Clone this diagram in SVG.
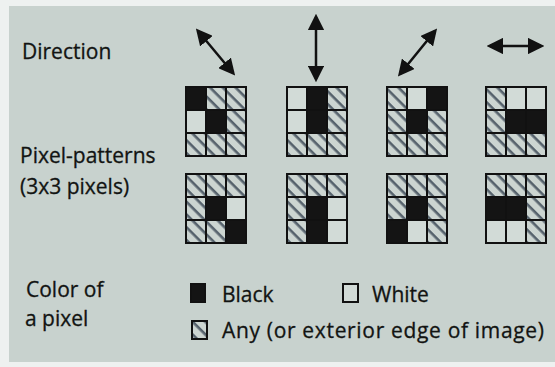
<svg xmlns="http://www.w3.org/2000/svg" width="555" height="367" viewBox="0 0 555 367">
<style>
  text { font-family: "Open Sans", "DejaVu Sans", sans-serif; font-size: 21px; fill: #121412; stroke: #121412; stroke-width: 0.3; }
  .b { fill: #141414; stroke: #111; stroke-width: 2; }
  .w { fill: #d2dbd7; stroke: #111; stroke-width: 2; }
  .a { fill: url(#hatch); stroke: #111; stroke-width: 2; }
  .arr { stroke: #111; stroke-width: 2.5; fill: none; marker-start: url(#ah); marker-end: url(#ah); }
</style>
<defs>
  <pattern id="hatch" patternUnits="userSpaceOnUse" width="9" height="9" patternTransform="rotate(45)">
    <rect width="9" height="9" fill="#ccd5d1"/>
    <rect x="0" y="0" width="9" height="2.6" fill="#56626c"/>
  </pattern>
  <marker id="ah" viewBox="0 0 10 10" refX="8" refY="5" markerWidth="6.6" markerHeight="6.6" orient="auto-start-reverse" markerUnits="strokeWidth">
    <path d="M0,0 L10,5 L0,10 Z" fill="#111"/>
  </marker>
</defs>
<rect width="555" height="367" fill="#eef1f0"/>
<rect x="9" y="6" width="546" height="356" fill="#c8d2ce"/>

<g id="labels">
  <text x="22" y="59">Direction</text>
  <text x="20" y="163">Pixel-patterns</text>
  <text x="20" y="194">(3x3 pixels)</text>
  <text x="26" y="297">Color of</text>
  <text x="25" y="326">a pixel</text>
</g>

<g id="connectors">
  <line class="arr" x1="198" y1="31" x2="233" y2="73"/>
  <line class="arr" x1="316" y1="17" x2="316" y2="79"/>
  <line class="arr" x1="435" y1="31" x2="400" y2="74"/>
  <line class="arr" x1="490" y1="46" x2="541" y2="46"/>
</g>

<g id="p1" transform="translate(186,87)">
  <rect class="b" x="0" y="0" width="20" height="23"/><rect class="a" x="20" y="0" width="20" height="23"/><rect class="a" x="40" y="0" width="20" height="23"/>
  <rect class="w" x="0" y="23" width="20" height="23"/><rect class="b" x="20" y="23" width="20" height="23"/><rect class="a" x="40" y="23" width="20" height="23"/>
  <rect class="a" x="0" y="46" width="20" height="23"/><rect class="a" x="20" y="46" width="20" height="23"/><rect class="a" x="40" y="46" width="20" height="23"/>
</g>
<g id="p2" transform="translate(287,87)">
  <rect class="w" x="0" y="0" width="20" height="23"/><rect class="b" x="20" y="0" width="20" height="23"/><rect class="a" x="40" y="0" width="20" height="23"/>
  <rect class="w" x="0" y="23" width="20" height="23"/><rect class="b" x="20" y="23" width="20" height="23"/><rect class="a" x="40" y="23" width="20" height="23"/>
  <rect class="a" x="0" y="46" width="20" height="23"/><rect class="a" x="20" y="46" width="20" height="23"/><rect class="a" x="40" y="46" width="20" height="23"/>
</g>
<g id="p3" transform="translate(387,87)">
  <rect class="a" x="0" y="0" width="20" height="23"/><rect class="w" x="20" y="0" width="20" height="23"/><rect class="b" x="40" y="0" width="20" height="23"/>
  <rect class="a" x="0" y="23" width="20" height="23"/><rect class="b" x="20" y="23" width="20" height="23"/><rect class="a" x="40" y="23" width="20" height="23"/>
  <rect class="a" x="0" y="46" width="20" height="23"/><rect class="a" x="20" y="46" width="20" height="23"/><rect class="a" x="40" y="46" width="20" height="23"/>
</g>
<g id="p4" transform="translate(486,87)">
  <rect class="a" x="0" y="0" width="20" height="23"/><rect class="w" x="20" y="0" width="20" height="23"/><rect class="w" x="40" y="0" width="20" height="23"/>
  <rect class="a" x="0" y="23" width="20" height="23"/><rect class="b" x="20" y="23" width="20" height="23"/><rect class="b" x="40" y="23" width="20" height="23"/>
  <rect class="a" x="0" y="46" width="20" height="23"/><rect class="a" x="20" y="46" width="20" height="23"/><rect class="a" x="40" y="46" width="20" height="23"/>
</g>

<g id="p5" transform="translate(186,174)">
  <rect class="a" x="0" y="0" width="20" height="23"/><rect class="a" x="20" y="0" width="20" height="23"/><rect class="a" x="40" y="0" width="20" height="23"/>
  <rect class="a" x="0" y="23" width="20" height="23"/><rect class="b" x="20" y="23" width="20" height="23"/><rect class="w" x="40" y="23" width="20" height="23"/>
  <rect class="a" x="0" y="46" width="20" height="23"/><rect class="a" x="20" y="46" width="20" height="23"/><rect class="b" x="40" y="46" width="20" height="23"/>
</g>
<g id="p6" transform="translate(287,174)">
  <rect class="a" x="0" y="0" width="20" height="23"/><rect class="a" x="20" y="0" width="20" height="23"/><rect class="a" x="40" y="0" width="20" height="23"/>
  <rect class="a" x="0" y="23" width="20" height="23"/><rect class="b" x="20" y="23" width="20" height="23"/><rect class="w" x="40" y="23" width="20" height="23"/>
  <rect class="a" x="0" y="46" width="20" height="23"/><rect class="b" x="20" y="46" width="20" height="23"/><rect class="w" x="40" y="46" width="20" height="23"/>
</g>
<g id="p7" transform="translate(387,174)">
  <rect class="a" x="0" y="0" width="20" height="23"/><rect class="a" x="20" y="0" width="20" height="23"/><rect class="a" x="40" y="0" width="20" height="23"/>
  <rect class="a" x="0" y="23" width="20" height="23"/><rect class="b" x="20" y="23" width="20" height="23"/><rect class="a" x="40" y="23" width="20" height="23"/>
  <rect class="b" x="0" y="46" width="20" height="23"/><rect class="w" x="20" y="46" width="20" height="23"/><rect class="a" x="40" y="46" width="20" height="23"/>
</g>
<g id="p8" transform="translate(486,174)">
  <rect class="a" x="0" y="0" width="20" height="23"/><rect class="a" x="20" y="0" width="20" height="23"/><rect class="a" x="40" y="0" width="20" height="23"/>
  <rect class="b" x="0" y="23" width="20" height="23"/><rect class="b" x="20" y="23" width="20" height="23"/><rect class="a" x="40" y="23" width="20" height="23"/>
  <rect class="w" x="0" y="46" width="20" height="23"/><rect class="w" x="20" y="46" width="20" height="23"/><rect class="a" x="40" y="46" width="20" height="23"/>
</g>

<g id="legend">
  <rect class="b" x="191" y="284" width="14" height="18"/>
  <text x="222" y="302">Black</text>
  <rect class="w" x="343" y="284" width="15" height="18"/>
  <text x="372" y="302">White</text>
  <rect class="a" x="192" y="321" width="15" height="18"/>
  <text x="222" y="338" textLength="322" lengthAdjust="spacing">Any (or exterior edge of image)</text>
</g>
</svg>
